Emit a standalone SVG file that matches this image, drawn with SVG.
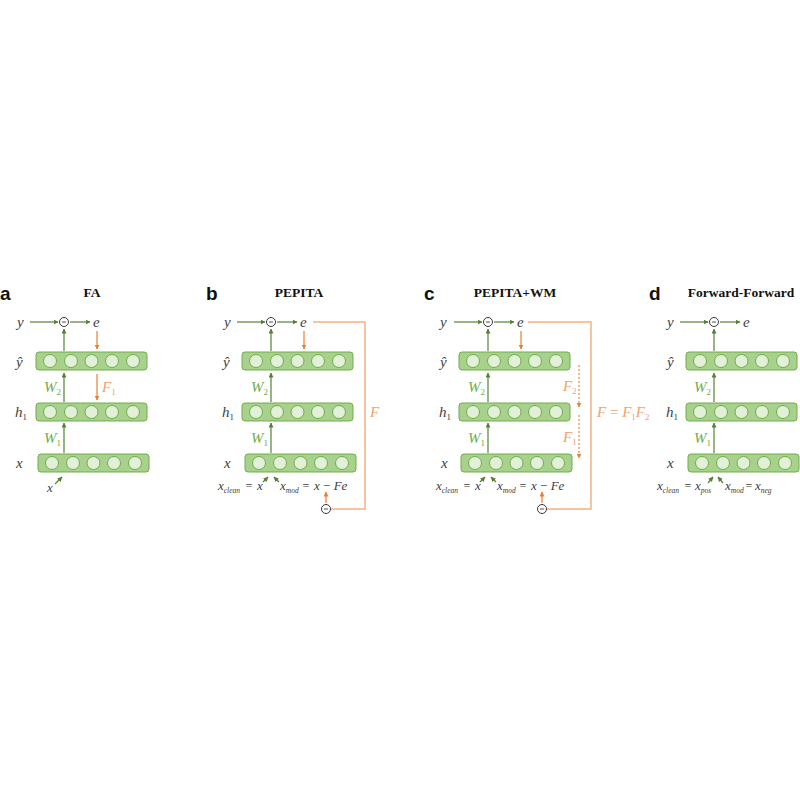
<svg xmlns="http://www.w3.org/2000/svg" width="800" height="800" viewBox="0 0 800 800">
<defs>
<style>
.layer{fill:#a9d18e;stroke:#70ad47;stroke-width:1}
.unit{fill:#e2f0d9;stroke:#70ad47;stroke-width:1}
.g{stroke:#548235;stroke-width:1.2;fill:none;marker-end:url(#ag)}
.o{stroke:#ed7d31;stroke-width:1.2;fill:none;marker-end:url(#ao)}
.od{stroke:#ed7d31;stroke-width:1.1;fill:none;stroke-dasharray:2 2;marker-end:url(#ao)}
.loop{stroke:#f4b183;stroke-width:1.5;fill:none}
.minus circle{fill:#fff;stroke:#222;stroke-width:0.9}
.minus line{stroke:#222;stroke-width:0.8}
.lbl{font-family:"Liberation Serif",serif;font-style:italic;font-size:15px;fill:#404040}
.bl{font-family:"Liberation Serif",serif;font-style:italic;font-size:13px;fill:#404040}
.eq{font-family:"Liberation Serif",serif;font-size:12px;fill:#404040}
.sub{font-size:9px}
.bs{font-size:7.5px}
.wl{fill:#70ad47}
.fl{fill:#f1a36a}
.title{font-family:"Liberation Serif",serif;font-weight:bold;font-size:13.5px;fill:#111;text-anchor:middle}
.letter{font-family:"Liberation Sans",sans-serif;font-weight:bold;font-size:19px;fill:#111}
</style>
<marker id="ag" viewBox="0 0 10 10" refX="9" refY="5" markerWidth="5" markerHeight="5" markerUnits="userSpaceOnUse" orient="auto"><path d="M0,0 L10,5 L0,10 z" fill="#548235"/></marker>
<marker id="ao" viewBox="0 0 10 10" refX="9" refY="5" markerWidth="5" markerHeight="5" markerUnits="userSpaceOnUse" orient="auto"><path d="M0,0 L10,5 L0,10 z" fill="#ed7d31"/></marker>
<g id="layerA"><rect class="layer" x="36" y="0" width="111" height="18" rx="3"/><circle class="unit" cx="50" cy="9" r="6.5"/><circle class="unit" cx="71" cy="9" r="6.5"/><circle class="unit" cx="91.5" cy="9" r="6.5"/><circle class="unit" cx="112" cy="9" r="6.5"/><circle class="unit" cx="133" cy="9" r="6.5"/></g>
<g id="minusSym" class="minus"><circle cx="0" cy="0" r="4.5"/><line x1="-2" y1="0" x2="2" y2="0"/></g>
</defs>
<rect width="800" height="800" fill="#fff"/>

<!-- Titles -->
<text class="letter" x="0" y="300">a</text>
<text class="title" x="92" y="297">FA</text>
<text class="letter" x="206" y="300">b</text>
<text class="title" x="299" y="297">PEPITA</text>
<text class="letter" x="424" y="300">c</text>
<text class="title" x="515" y="297">PEPITA+WM</text>
<text class="letter" x="649" y="300">d</text>
<text class="title" x="741" y="297">Forward-Forward</text>

<!-- Panel a -->
<g id="panel-a">
<g id="a-yhat"><use href="#layerA" y="352"/><text class="lbl" x="16" y="367">ŷ</text></g>
<g id="a-h1"><use href="#layerA" y="403"/><text class="lbl" x="15" y="417">h<tspan class="sub" font-style="normal" dy="3">1</tspan></text></g>
<g id="a-x"><use href="#layerA" x="2" y="454"/><text class="lbl" x="16" y="468">x</text></g>
<g id="a-y"><text class="lbl" x="17" y="327">y</text></g>
<g id="a-minus"><use href="#minusSym" x="64" y="322"/></g>
<g id="a-e"><text class="lbl" x="93" y="327">e</text></g>
<g id="a-xin"><text class="bl" x="47" y="492">x</text></g>
<g id="a-conn">
<line class="g" x1="30" y1="322" x2="58" y2="322"/>
<line class="g" x1="70" y1="322" x2="90" y2="322"/>
<line class="g" x1="64" y1="351" x2="64" y2="329"/>
<line class="o" x1="97" y1="331" x2="97" y2="349"/>
<line class="g" x1="64" y1="402" x2="64" y2="373"/>
<line class="o" x1="97" y1="374" x2="97" y2="400"/>
<line class="g" x1="64" y1="453" x2="64" y2="423"/>
<line class="g" x1="55" y1="484" x2="62" y2="477"/>
</g>
<text class="lbl wl" x="44" y="392">W<tspan class="sub" font-style="normal" dy="3">2</tspan></text>
<text class="lbl wl" x="44" y="443">W<tspan class="sub" font-style="normal" dy="3">1</tspan></text>
<text class="lbl fl" x="102" y="392">F<tspan class="sub" font-style="normal" dy="3">1</tspan></text>
</g>

<!-- Panel b -->
<g id="panel-b" transform="translate(206,0)">
<g id="b-yhat"><use href="#layerA" y="352"/><text class="lbl" x="17" y="367">ŷ</text></g>
<g id="b-h1"><use href="#layerA" y="403"/><text class="lbl" x="16" y="417">h<tspan class="sub" font-style="normal" dy="3">1</tspan></text></g>
<g id="b-x"><use href="#layerA" x="3" y="454"/><text class="lbl" x="18" y="468">x</text></g>
<g id="b-y"><text class="lbl" x="18" y="327">y</text></g>
<g id="b-minus"><use href="#minusSym" x="65" y="322"/></g>
<g id="b-e"><text class="lbl" x="94" y="327">e</text></g>
<g id="b-minus2"><use href="#minusSym" x="120" y="509"/></g>
<g id="b-conn">
<line class="g" x1="31" y1="322" x2="59" y2="322"/>
<line class="g" x1="71" y1="322" x2="91" y2="322"/>
<line class="g" x1="65" y1="351" x2="65" y2="329"/>
<line class="o" x1="98" y1="331" x2="98" y2="349"/>
<line class="g" x1="65" y1="402" x2="65" y2="373"/>
<line class="g" x1="65" y1="453" x2="65" y2="423"/>
<line class="g" x1="57" y1="482" x2="62" y2="477"/>
<line class="g" x1="73" y1="482" x2="68" y2="477"/>
<polyline class="loop" points="107,322 159,322 159,509 125,509"/>
<line class="o" x1="120" y1="503" x2="120" y2="492"/>
</g>
<text class="lbl wl" x="45" y="392">W<tspan class="sub" font-style="normal" dy="3">2</tspan></text>
<text class="lbl wl" x="45" y="443">W<tspan class="sub" font-style="normal" dy="3">1</tspan></text>
<text class="lbl fl" x="164" y="417">F</text>
<text class="bl" x="12" y="490">x<tspan class="bs" dy="3">clean</tspan></text>
<text class="eq" x="43" y="490" text-anchor="middle">=</text>
<text class="bl" x="51" y="490">x</text>
<text class="bl" x="74" y="490">x<tspan class="bs" dy="3">mod</tspan></text>
<text class="eq" x="100" y="490" text-anchor="middle">=</text>
<text class="bl" x="108" y="490">x <tspan font-style="normal">−</tspan> Fe</text>
</g>

<!-- Panel c -->
<g id="panel-c" transform="translate(423,0)">
<g id="c-yhat"><use href="#layerA" y="352"/><text class="lbl" x="17" y="367">ŷ</text></g>
<g id="c-h1"><use href="#layerA" y="403"/><text class="lbl" x="16" y="417">h<tspan class="sub" font-style="normal" dy="3">1</tspan></text></g>
<g id="c-x"><use href="#layerA" x="2" y="454"/><text class="lbl" x="18" y="468">x</text></g>
<g id="c-y"><text class="lbl" x="17" y="327">y</text></g>
<g id="c-minus"><use href="#minusSym" x="65" y="322"/></g>
<g id="c-e"><text class="lbl" x="94" y="327">e</text></g>
<g id="c-minus2"><use href="#minusSym" x="119" y="509"/></g>
<g id="c-conn">
<line class="g" x1="31" y1="322" x2="59" y2="322"/>
<line class="g" x1="71" y1="322" x2="91" y2="322"/>
<line class="g" x1="65" y1="351" x2="65" y2="329"/>
<line class="o" x1="98" y1="331" x2="98" y2="349"/>
<line class="g" x1="65" y1="402" x2="65" y2="373"/>
<line class="g" x1="65" y1="453" x2="65" y2="423"/>
<line class="g" x1="57" y1="482" x2="62" y2="477"/>
<line class="g" x1="73" y1="482" x2="68" y2="477"/>
<line class="od" x1="156" y1="365" x2="156" y2="407"/>
<line class="od" x1="156" y1="415" x2="156" y2="458"/>
<polyline class="loop" points="105,322 168,322 168,509 124,509"/>
<line class="o" x1="119" y1="503" x2="119" y2="492"/>
</g>
<text class="lbl wl" x="45" y="392">W<tspan class="sub" font-style="normal" dy="3">2</tspan></text>
<text class="lbl wl" x="45" y="443">W<tspan class="sub" font-style="normal" dy="3">1</tspan></text>
<text class="lbl fl" x="140" y="391">F<tspan class="sub" font-style="normal" dy="3">2</tspan></text>
<text class="lbl fl" x="140" y="442">F<tspan class="sub" font-style="normal" dy="3">1</tspan></text>
<text class="lbl fl" x="174" y="417" font-size="14">F <tspan font-style="normal">=</tspan> F<tspan class="sub" font-style="normal" dy="3">1</tspan><tspan dy="-3">F</tspan><tspan class="sub" font-style="normal" dy="3">2</tspan></text>
<text class="bl" x="13" y="490">x<tspan class="bs" dy="3">clean</tspan></text>
<text class="eq" x="44" y="490" text-anchor="middle">=</text>
<text class="bl" x="52" y="490">x</text>
<text class="bl" x="74" y="490">x<tspan class="bs" dy="3">mod</tspan></text>
<text class="eq" x="100" y="490" text-anchor="middle">=</text>
<text class="bl" x="108" y="490">x <tspan font-style="normal">−</tspan> Fe</text>
</g>

<!-- Panel d -->
<g id="panel-d" transform="translate(650,0)">
<g id="d-yhat"><use href="#layerA" y="352"/><text class="lbl" x="17" y="367">ŷ</text></g>
<g id="d-h1"><use href="#layerA" y="403"/><text class="lbl" x="16" y="417">h<tspan class="sub" font-style="normal" dy="3">1</tspan></text></g>
<g id="d-x"><use href="#layerA" x="2" y="454"/><text class="lbl" x="17" y="468">x</text></g>
<g id="d-y"><text class="lbl" x="17" y="327">y</text></g>
<g id="d-minus"><use href="#minusSym" x="64" y="322"/></g>
<g id="d-e"><text class="lbl" x="93" y="327">e</text></g>
<g id="d-conn">
<line class="g" x1="30" y1="322" x2="58" y2="322"/>
<line class="g" x1="70" y1="322" x2="90" y2="322"/>
<line class="g" x1="64" y1="351" x2="64" y2="329"/>
<line class="g" x1="64" y1="402" x2="64" y2="373"/>
<line class="g" x1="64" y1="453" x2="64" y2="423"/>
<line class="g" x1="58" y1="483" x2="63" y2="477"/>
<line class="g" x1="73" y1="483" x2="68" y2="477"/>
</g>
<text class="lbl wl" x="44" y="392">W<tspan class="sub" font-style="normal" dy="3">2</tspan></text>
<text class="lbl wl" x="44" y="443">W<tspan class="sub" font-style="normal" dy="3">1</tspan></text>
<text class="bl" x="7" y="490">x<tspan class="bs" dy="3">clean</tspan></text>
<text class="eq" x="38" y="490" text-anchor="middle">=</text>
<text class="bl" x="45" y="490">x<tspan class="bs" dy="3">pos</tspan></text>
<text class="bl" x="75" y="490">x<tspan class="bs" dy="3">mod</tspan></text>
<text class="eq" x="99" y="490" text-anchor="middle">=</text>
<text class="bl" x="105" y="490">x<tspan class="bs" dy="3">neg</tspan></text>
</g>
</svg>
